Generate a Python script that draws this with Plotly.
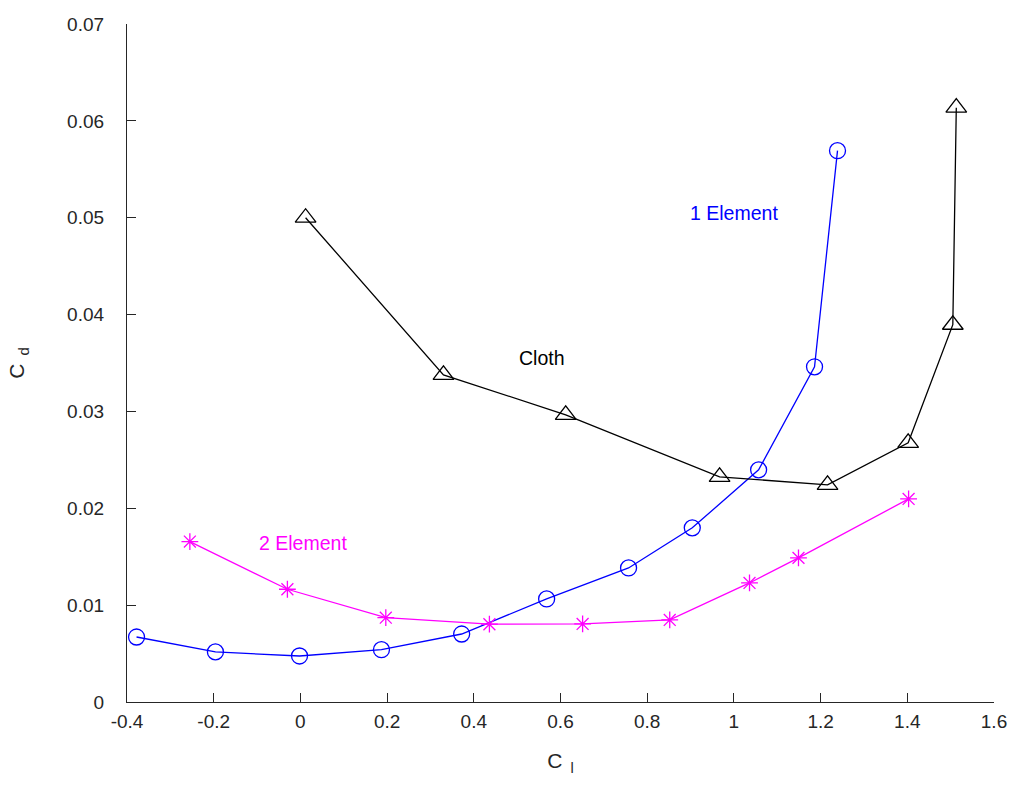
import plotly.graph_objects as go

# Lift coefficient (C_l) and drag coefficient (C_d) for each sail configuration
one_el_cl = [-0.378, -0.196, -0.002, 0.187, 0.372, 0.568, 0.757, 0.904, 1.057, 1.186, 1.239]
one_el_cd = [0.00671, 0.00517, 0.00475, 0.00540, 0.00702, 0.01064, 0.01384, 0.01798, 0.02397, 0.03461, 0.05692]

two_el_cl = [-0.255, -0.030, 0.197, 0.436, 0.651, 0.852, 1.036, 1.149, 1.403]
two_el_cd = [0.01656, 0.01164, 0.00871, 0.00803, 0.00806, 0.00847, 0.01229, 0.01488, 0.02097]

cloth_cl = [0.012, 0.330, 0.612, 0.967, 1.216, 1.402, 1.505, 1.513]
cloth_cd = [0.0500, 0.03378, 0.02965, 0.02324, 0.02242, 0.02676, 0.03895, 0.06136]

x_ticks = [-0.4, -0.2, 0, 0.2, 0.4, 0.6, 0.8, 1.0, 1.2, 1.4, 1.6]
x_tick_text = ["-0.4", "-0.2", "0", "0.2", "0.4", "0.6", "0.8", "1", "1.2", "1.4", "1.6"]
y_ticks = [0, 0.01, 0.02, 0.03, 0.04, 0.05, 0.06, 0.07]
y_tick_text = ["0", "0.01", "0.02", "0.03", "0.04", "0.05", "0.06", "0.07"]

# Series labels placed inside the plot (x, y, text, colour)
labels = [
    (0.894, 0.0505, "1 Element", "#0000ff"),
    (0.50, 0.0355, "Cloth", "#000000"),
    (-0.10, 0.0164, "2 Element", "#ff00ff"),
]

FONT = "Liberation Sans, Arial, sans-serif"

fig = go.Figure()

fig.add_trace(go.Scatter(
    x=one_el_cl, y=one_el_cd, mode="lines+markers",
    line=dict(color="#0000ff", width=1.3),
    marker=dict(symbol="circle-open", size=16, color="#0000ff", line=dict(width=1.3)),
))
fig.add_trace(go.Scatter(
    x=two_el_cl, y=two_el_cd, mode="lines+markers",
    line=dict(color="#ff00ff", width=1.3),
    marker=dict(symbol="asterisk-open", size=14, color="#ff00ff", line=dict(width=1.3, color="#ff00ff")),
))
fig.add_trace(go.Scatter(
    x=cloth_cl, y=cloth_cd, mode="lines+markers",
    line=dict(color="#000000", width=1.3),
    marker=dict(symbol="triangle-up-open", size=18, color="#000000", line=dict(width=1.3)),
))

for lx, ly, txt, col in labels:
    fig.add_annotation(
        x=lx, y=ly, text=txt, showarrow=False, xanchor="left", yanchor="middle",
        font=dict(family=FONT, size=19.5, color=col),
    )

axis_common = dict(
    showline=True, linecolor="#262626", linewidth=1.3,
    ticks="inside", ticklen=9, tickwidth=1.3, tickcolor="#262626",
    showgrid=False, zeroline=False, mirror=False, automargin=False,
    tickfont=dict(family=FONT, size=19, color="#262626"),
)

fig.update_layout(
    width=1010, height=787,
    margin=dict(l=127, r=16, t=24, b=85),
    plot_bgcolor="white", paper_bgcolor="white",
    showlegend=False,
    xaxis=dict(
        range=[-0.4, 1.6], tickvals=x_ticks, ticktext=x_tick_text,
        ticklabelstandoff=2,
        title=dict(text="C<sub>  l</sub>", standoff=22,
                   font=dict(family=FONT, size=21, color="#262626")),
        **axis_common,
    ),
    yaxis=dict(
        range=[0, 0.07], tickvals=y_ticks, ticktext=y_tick_text,
        ticklabelstandoff=18,
        title=dict(text="C<sub>  d</sub>", standoff=36,
                   font=dict(family=FONT, size=21, color="#262626")),
        **axis_common,
    ),
)

fig.write_html("out.html")
